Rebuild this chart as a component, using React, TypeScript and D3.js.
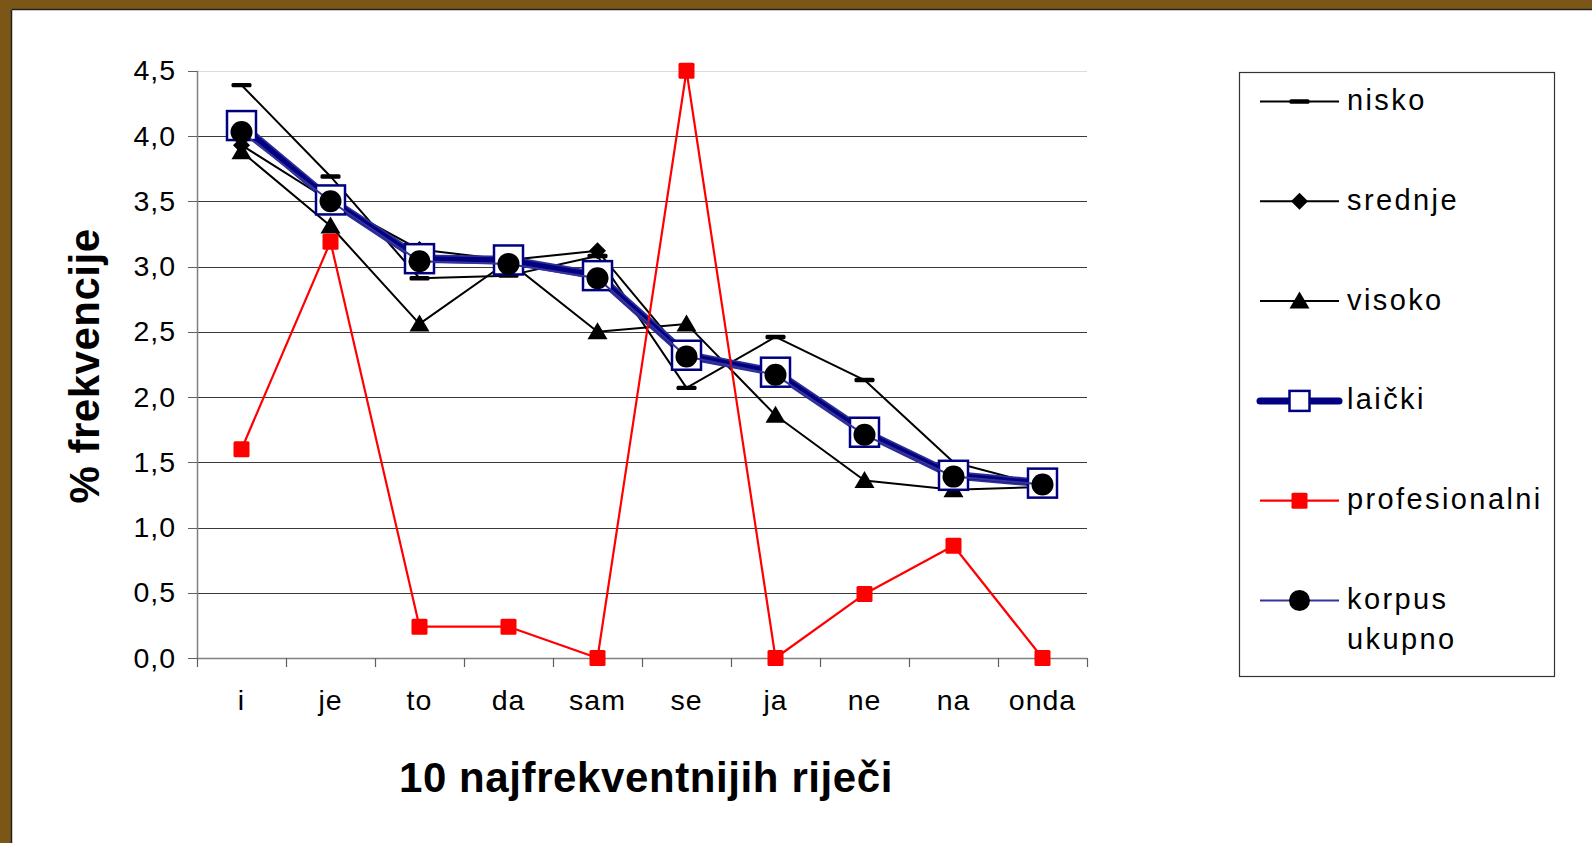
import React from 'react';
import * as d3 from 'd3';

const categories = ['i', 'je', 'to', 'da', 'sam', 'se', 'ja', 'ne', 'na', 'onda'];
const nisko = [4.39, 3.69, 2.91, 2.93, 3.08, 2.07, 2.46, 2.13, 1.5, 1.32];
const srednje = [3.93, 3.5, 3.13, 3.05, 3.12, 2.3, 2.2, 1.72, 1.38, 1.33];
const visoko = [3.88, 3.31, 2.56, 3.04, 2.5, 2.56, 1.86, 1.36, 1.29, 1.31];
const laicki = [4.08, 3.51, 3.06, 3.05, 2.93, 2.32, 2.19, 1.73, 1.4, 1.34];
const profesionalni = [1.6, 3.19, 0.24, 0.24, 0.0, 4.5, 0.0, 0.49, 0.86, 0.0];
const korpus = [4.03, 3.5, 3.04, 3.02, 2.91, 2.31, 2.17, 1.71, 1.39, 1.33];
const yTicks = [0, 0.5, 1, 1.5, 2, 2.5, 3, 3.5, 4, 4.5];
const yTickLabels = ['0,0', '0,5', '1,0', '1,5', '2,0', '2,5', '3,0', '3,5', '4,0', '4,5'];
const legendNames = ['nisko', 'srednje', 'visoko', 'laički', 'profesionalni', 'korpus ukupno'];
const xTitle = '10 najfrekventnijih riječi';
const yTitle = '% frekvencije';

const FONT = '"Liberation Sans", Arial, sans-serif';
const NAVY = '#000080';

type MarkerKind = 'bar' | 'diamond' | 'triangle' | 'square' | 'redsq' | 'circle';

function Marker({ kind, x, y, big }: { kind: MarkerKind; x: number; y: number; big?: boolean }) {
  switch (kind) {
    case 'bar':
      return <rect x={x - 10} y={y - 2.2} width={20} height={4.4} rx={1.5} fill="#000" />;
    case 'diamond':
      return <polygon points={`${x},${y - 8.5} ${x + 8.5},${y} ${x},${y + 8.5} ${x - 8.5},${y}`} fill="#000" />;
    case 'triangle':
      return <polygon points={`${x},${y - 9.5} ${x + 10},${y + 7.5} ${x - 10},${y + 7.5}`} fill="#000" />;
    case 'square': {
      const s = big ? 29 : 20;
      return (
        <rect x={x - s / 2} y={y - s / 2} width={s} height={s} fill="#fff" stroke={NAVY} strokeWidth={2.5} />
      );
    }
    case 'redsq':
      return <rect x={x - 8} y={y - 8} width={16} height={16} rx={1.5} fill="#ff0000" />;
    case 'circle':
      return <circle cx={x} cy={y} r={big ? 11 : 10.5} fill="#000" />;
  }
  return null;
}

const seriesDefs: { name: string; values: number[]; color: string; width: number; marker: MarkerKind }[] = [
  { name: legendNames[0], values: nisko, color: '#000', width: 2, marker: 'bar' },
  { name: legendNames[1], values: srednje, color: '#000', width: 2, marker: 'diamond' },
  { name: legendNames[2], values: visoko, color: '#000', width: 2, marker: 'triangle' },
  { name: legendNames[3], values: laicki, color: NAVY, width: 7, marker: 'square' },
  { name: legendNames[4], values: profesionalni, color: '#ff0000', width: 2.2, marker: 'redsq' },
  { name: legendNames[5], values: korpus, color: '#333399', width: 2, marker: 'circle' },
];

export default function App() {
  const W = 1592;
  const H = 843;
  const x = d3.scaleBand<string>().domain(categories).range([197, 1087]).padding(0);
  const y = d3.scaleLinear().domain([0, 4.5]).range([658, 70.75]);
  const cx = (c: string) => (x(c) as number) + x.bandwidth() / 2;
  const line = d3
    .line<number>()
    .x((_, i) => cx(categories[i]))
    .y((d) => y(d));

  const boundaries = d3.range(categories.length + 1).map((i) => 197 + i * x.bandwidth());

  const legendX0 = 1260;
  const legendX1 = 1339;
  const legendMid = (legendX0 + legendX1) / 2;
  const legendY0 = 101.5;
  const legendStep = 99.8;

  return (
    <svg
      width={W}
      height={H}
      viewBox={`0 0 ${W} ${H}`}
      style={{ position: 'fixed', left: 0, top: 0, background: '#fff' }}
      fontFamily={FONT}
    >
      <rect x={0} y={0} width={W} height={H} fill="#fff" />
      {/* frame */}
      <rect x={0} y={0} width={W} height={9} fill="#7b5717" />
      <rect x={0} y={0} width={11} height={H} fill="#7b5717" />
      <line x1={11.5} y1={9.5} x2={W} y2={9.5} stroke="#222" strokeWidth={1.5} />
      <line x1={11.5} y1={9.5} x2={11.5} y2={H} stroke="#222" strokeWidth={1.5} />

      {/* gridlines */}
      {yTicks.slice(1).map((t, i) => (
        <line
          key={'g' + i}
          x1={197}
          x2={1087}
          y1={Math.round(y(t)) + 0.5}
          y2={Math.round(y(t)) + 0.5}
          stroke={t === 4.5 ? '#dcdcdc' : '#3a3a3a'}
          strokeWidth={1}
        />
      ))}
      {/* y axis */}
      <line x1={197.5} x2={197.5} y1={y(4.5)} y2={658} stroke="#808080" strokeWidth={1.5} />
      {yTicks.map((t, i) => (
        <line
          key={'yt' + i}
          x1={188}
          x2={197}
          y1={Math.round(y(t)) + 0.5}
          y2={Math.round(y(t)) + 0.5}
          stroke="#606060"
          strokeWidth={1}
        />
      ))}
      {yTicks.map((t, i) => (
        <text
          key={'yl' + i}
          x={176}
          y={y(t) + 9.5}
          textAnchor="end"
          fontSize={28.5}
          letterSpacing={1}
          fill="#000"
        >
          {yTickLabels[i]}
        </text>
      ))}
      {/* x axis */}
      <line x1={197} x2={1087} y1={658.5} y2={658.5} stroke="#808080" strokeWidth={1.5} />
      {boundaries.map((b, i) => (
        <line key={'xt' + i} x1={b + 0.5} x2={b + 0.5} y1={658} y2={667} stroke="#606060" strokeWidth={1.2} />
      ))}
      {categories.map((c) => (
        <text key={'xl' + c} x={cx(c)} y={710} textAnchor="middle" fontSize={28.5} letterSpacing={1} fill="#000">
          {c}
        </text>
      ))}

      {/* titles */}
      <text x={646} y={792} textAnchor="middle" fontSize={42} fontWeight="bold" letterSpacing={0.6} fill="#000">
        {xTitle}
      </text>
      <text
        transform="translate(99,366) rotate(-90)"
        textAnchor="middle"
        fontSize={42}
        fontWeight="bold"
        letterSpacing={0.5}
        fill="#000"
      >
        {yTitle}
      </text>

      {/* series */}
      {seriesDefs.map((s) => (
        <g key={s.name}>
          {s.marker === 'square' && (
            <path d={line(s.values) || ''} fill="none" stroke="#2e2e96" strokeWidth={s.width + 1.5} strokeLinejoin="round" />
          )}
          <path
            d={line(s.values) || ''}
            fill="none"
            stroke={s.color}
            strokeWidth={s.marker === 'square' ? s.width - 2 : s.width}
            strokeLinejoin="round"
          />
          {s.values.map((v, i) => (
            <Marker key={i} kind={s.marker} x={cx(categories[i])} y={y(v)} big />
          ))}
        </g>
      ))}

      {/* legend */}
      <rect x={1239.5} y={72.5} width={315} height={604} fill="#fff" stroke="#333" strokeWidth={1.2} />
      {seriesDefs.map((s, i) => {
        const ly = legendY0 + i * legendStep;
        const lines = s.name.split(' ');
        return (
          <g key={'lg' + i}>
            <line
              x1={legendX0}
              x2={legendX1}
              y1={ly}
              y2={ly}
              stroke={s.color}
              strokeWidth={s.marker === 'square' ? 7 : s.width}
              strokeLinecap={s.marker === 'square' ? 'round' : 'butt'}
            />
            <Marker kind={s.marker} x={legendMid} y={ly} />
            {lines.map((t, j) => (
              <text key={j} x={1347} y={ly + 8.5 + j * 40} fontSize={29} letterSpacing={2.4} fill="#000">
                {t}
              </text>
            ))}
          </g>
        );
      })}
    </svg>
  );
}
